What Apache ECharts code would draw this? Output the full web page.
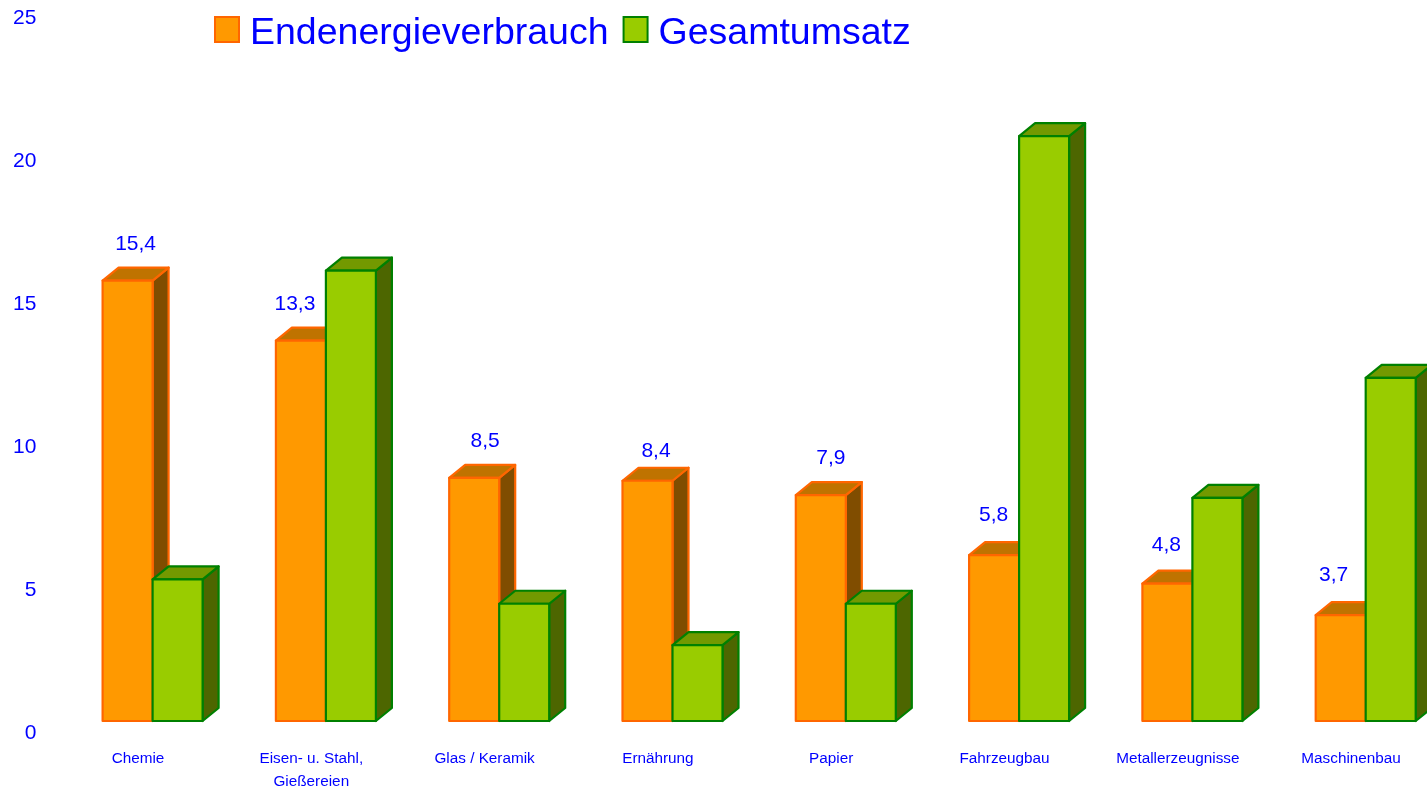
<!DOCTYPE html>
<html>
<head>
<meta charset="utf-8">
<style>html,body{margin:0;padding:0;background:#fff}#c{width:1427px;height:788px}</style>
<script src="https://cdn.jsdelivr.net/npm/echarts@6/dist/echarts.min.js"></script>
</head>
<body>
<div id="c"></div>
<script>
var categories = ['Chemie', 'Eisen- u. Stahl,\nGießereien', 'Glas / Keramik', 'Ernährung', 'Papier', 'Fahrzeugbau', 'Metallerzeugnisse', 'Maschinenbau'];
var endenergieverbrauch = [15.4, 13.3, 8.5, 8.4, 7.9, 5.8, 4.8, 3.7];
var gesamtumsatz = [4.95, 15.75, 4.1, 2.65, 4.1, 20.45, 7.8, 12.0];
var yTicks = [0, 5, 10, 15, 20, 25];

// Layout constants of the pseudo-3D drawing
var BAR_W = 50, DEPTH_X = 16, DEPTH_Y = 13, AXIS_SHIFT = 14.6;
var LABEL_NUDGE_X = [8, -6, 11, 8.5, 10, -0.5, -1, -7];
var LABEL_NUDGE_Y = [0, 0, -1, 6, -1, -4, -3, -4];
var FONT = '"Liberation Sans", Arial, sans-serif';

function box(side, colors, labelled) {
  return function (params, api) {
    var i = api.value(0), v = api.value(1);
    var top = api.coord([i, v]);
    var base = api.coord([i, 0])[1];
    var edge = top[0] + AXIS_SHIFT;
    var x = side === 0 ? edge - BAR_W : edge;
    var y = top[1], r = x + BAR_W;
    var st = function (fill) { return { fill: fill, stroke: colors.line, lineWidth: 2.2, lineJoin: 'round' }; };
    var kids = [
      { type: 'polygon', shape: { points: [[r, y], [r + DEPTH_X, y - DEPTH_Y], [r + DEPTH_X, base - DEPTH_Y], [r, base]] }, style: st(colors.side) },
      { type: 'polygon', shape: { points: [[x, y], [x + DEPTH_X, y - DEPTH_Y], [r + DEPTH_X, y - DEPTH_Y], [r, y]] }, style: st(colors.top) },
      { type: 'rect', shape: { x: x, y: y, width: BAR_W, height: base - y }, style: st(colors.front) }
    ];
    if (labelled) {
      kids.push({
        type: 'text',
        style: {
          x: x + BAR_W / 2 + LABEL_NUDGE_X[params.dataIndex], y: y - 36 + LABEL_NUDGE_Y[params.dataIndex],
          text: String(v).replace('.', ','), fill: '#0000FF',
          font: '21px ' + FONT, textAlign: 'center', textVerticalAlign: 'middle'
        }
      });
    }
    return { type: 'group', children: kids };
  };
}

var orange = { front: '#FF9900', line: '#FF6600', top: '#BF7300', side: '#804D00' };
var green = { front: '#99CC00', line: '#008000', top: '#739900', side: '#4D6600' };

function rows(values) { return values.map(function (v, i) { return [i, v]; }); }

var chart = echarts.init(document.getElementById('c'), null, { renderer: 'canvas' });
chart.setOption({
  animation: false,
  backgroundColor: '#ffffff',
  grid: { left: 51.35, top: 6, width: 1386.4, height: 715, containLabel: false, outerBoundsMode: 'none' },
  legend: {
    left: 214, top: 14.5, padding: 0, itemWidth: 24, itemHeight: 25, itemGap: 14,
    icon: 'rect',
    formatter: '{t|{name}}',
    textStyle: {
      color: '#0000FF', fontSize: 37.5, fontFamily: FONT, padding: [0, 0, 0, 6],
      rich: { t: { color: '#0000FF', fontSize: 37.5, fontFamily: FONT, padding: [8, 0, 0, 0] } }
    },
    data: ['Endenergieverbrauch', 'Gesamtumsatz']
  },
  xAxis: {
    type: 'category', data: categories,
    axisLine: { show: false }, axisTick: { show: false }, splitLine: { show: false },
    axisLabel: { interval: 0, margin: 26, color: '#0000FF', fontSize: 15.3, lineHeight: 23.5, fontFamily: FONT, hideOverlap: false }
  },
  yAxis: {
    type: 'value', min: yTicks[0], max: yTicks[yTicks.length - 1], interval: 5,
    axisLine: { show: false }, axisTick: { show: false }, splitLine: { show: false },
    axisLabel: { margin: 15, color: '#0000FF', fontSize: 21, lineHeight: 25, fontFamily: FONT, verticalAlign: 'top', showMinLabel: true, showMaxLabel: true }
  },
  series: [
    {
      name: 'Endenergieverbrauch', type: 'custom', clip: false,
      renderItem: box(0, orange, true), data: rows(endenergieverbrauch),
      encode: { x: 0, y: 1 },
      itemStyle: { color: orange.front, borderColor: orange.line, borderWidth: 2 }
    },
    {
      name: 'Gesamtumsatz', type: 'custom', clip: false,
      renderItem: box(1, green, false), data: rows(gesamtumsatz),
      encode: { x: 0, y: 1 },
      itemStyle: { color: green.front, borderColor: green.line, borderWidth: 2 }
    }
  ]
});
</script>
</body>
</html>
